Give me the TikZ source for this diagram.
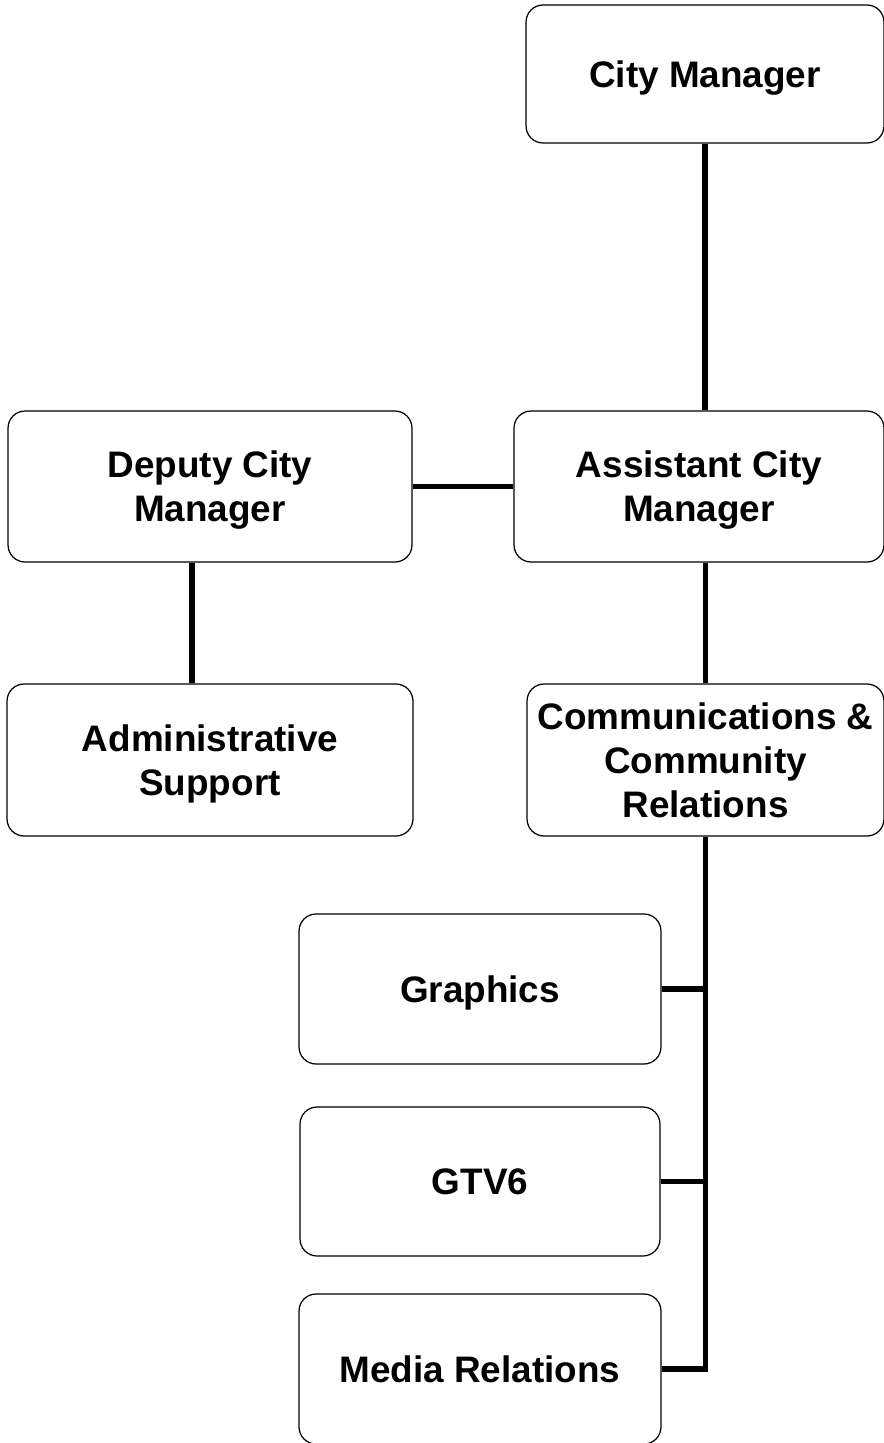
\documentclass[tikz,border=0pt]{standalone}
\usepackage{fontspec}
\setmainfont{Liberation Sans}
\tikzset{
  unit/.style={draw,rounded corners=.34cm,line width=.7pt,align=center,
    inner sep=0pt,text depth=0pt,font=\bfseries\fontsize{21}{25}\selectfont},
  link/.style={line width=3.2pt}
}
\begin{document}
\begin{tikzpicture}[x=.02cm,y=-.02cm]
\useasboundingbox (0,0) rectangle (883,1443);
\node[unit,minimum width=7.16cm,minimum height=2.76cm] (cm) at (705,74) {City Manager};
\node[unit,minimum width=7.4cm,minimum height=3.02cm] (acm) at (699,486.5) {Assistant City\\Manager};
\node[unit,minimum width=8.08cm,minimum height=3.02cm] (dcm) at (210,486.5) {Deputy City\\Manager};
\node[unit,minimum width=8.12cm,minimum height=3.04cm] (adm) at (210,760) {Administrative\\Support};
\node[unit,minimum width=7.14cm,minimum height=3.04cm] (ccr) at (705.5,760) {Communications \&\\Community\\Relations};
\node[unit,minimum width=7.24cm,minimum height=3cm] (gfx) at (480,989) {Graphics};
\node[unit,minimum width=7.2cm,minimum height=2.98cm] (gtv) at (480,1181.5) {GTV6};
\node[unit,minimum width=7.24cm,minimum height=3cm] (med) at (480,1369) {Media Relations};
\coordinate (dv) at (192,563);
% links
\draw[link] (cm.south) -- (cm.south |- acm.north);
\draw[link] (dcm.east) -- (acm.west);
\draw[link] (dv) -- (dv |- adm.north);
\draw[link] (ccr.north) -- (ccr.north |- acm.south);
\draw[link] (ccr.south) -- (ccr.south |- med.east) -- (med.east);
\draw[link] (gfx.east) -- (ccr.south |- gfx.east);
\draw[link] (gtv.east) -- (ccr.south |- gtv.east);
\end{tikzpicture}
\end{document}
